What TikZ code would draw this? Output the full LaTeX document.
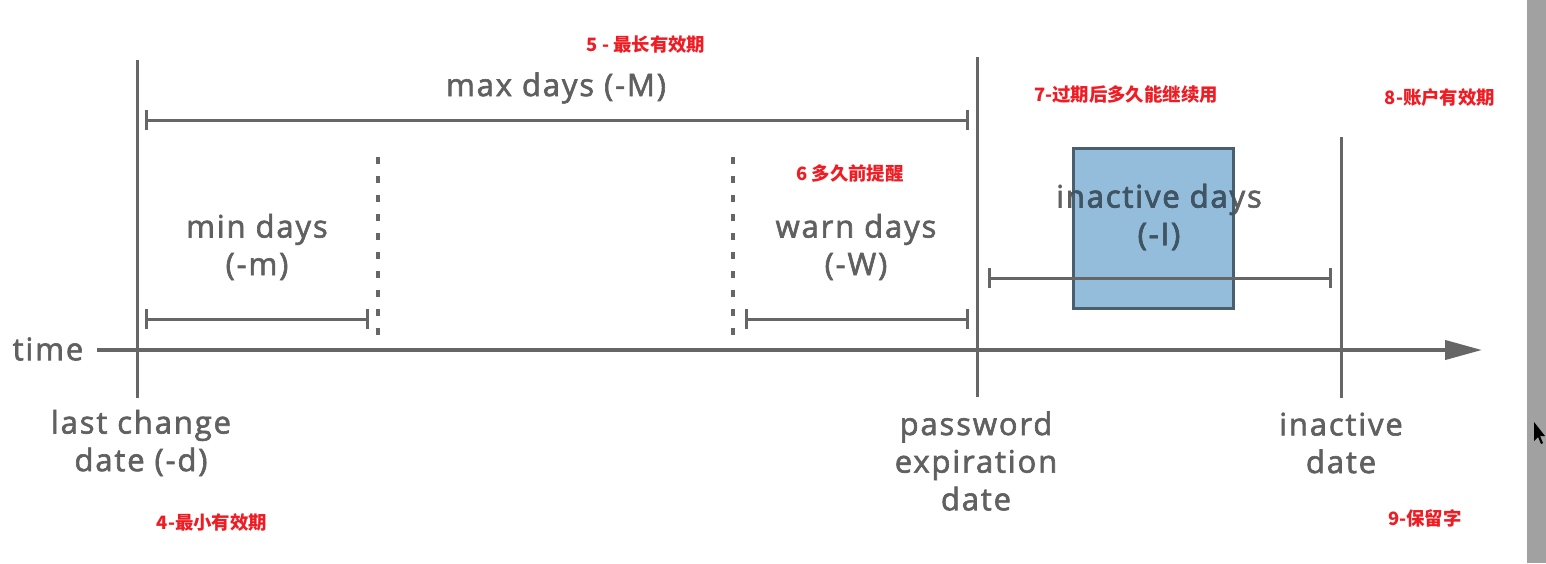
\documentclass[tikz,border=0pt]{standalone}
\usepackage{fontspec}
\setmainfont{Open Sans}
\IfFontExistsTF{Open Sans SemiBold}
  {\newfontfamily\lblfont[LetterSpace=5]{Open Sans SemiBold}}
  {\newfontfamily\lblfont[LetterSpace=6,FakeBold=2]{Open Sans}}
\newfontfamily\cjk{Noto Sans CJK SC}
\usetikzlibrary{arrows.meta}
\definecolor{linegray}{HTML}{666666}
\definecolor{txtgray}{HTML}{606060}
\definecolor{boxfill}{HTML}{94BCDB}
\definecolor{boxedge}{HTML}{4A5F6E}
\definecolor{txtdark}{HTML}{3E5566}
\definecolor{notered}{HTML}{F01C24}
\tikzset{
  lbl/.style={font=\lblfont\fontsize{15.5}{18.8}\selectfont, text=txtgray, align=center, inner sep=0pt},
  note/.style={font=\cjk\bfseries\fontsize{9.2}{10}\selectfont, text=notered, inner sep=0pt},
  ln/.style={draw=linegray, line width=1.5pt},
  spanbar/.style={ln, {Bar[width=10pt]}-{Bar[width=10pt]}},
  dotline/.style={draw=linegray, line width=1.6pt, dash pattern=on 3.5pt off 6pt},
}
\begin{document}
\begin{tikzpicture}[x=0.5pt,y=-0.5pt]
\useasboundingbox (0,0) rectangle (1546,563);
\fill[white] (0,0) rectangle (1546,563);
% right scrollbar
\fill[black!37] (1527,0) rectangle (1546,563);
% cursor
\fill[black] (1534,422) -- (1534,441) -- (1538,437) -- (1541,444) -- (1543,443) -- (1540,436) -- (1545,436) -- cycle;

% coordinates
\coordinate (axS) at (97,350);
\coordinate (axE) at (1482,350);
\coordinate (v1t) at (137,60);  \coordinate (v1b) at (137,398);
\coordinate (v2t) at (977,57);  \coordinate (v2b) at (977,397);
\coordinate (v3t) at (1341,137);\coordinate (v3b) at (1341,398);
\coordinate (d1t) at (378,157); \coordinate (d1b) at (378,344);
\coordinate (d2t) at (733,157); \coordinate (d2b) at (733,344);
\coordinate (mxL) at (145,120); \coordinate (mxR) at (969,120);
\coordinate (mnL) at (145,319); \coordinate (mnR) at (369,319);
\coordinate (wnL) at (745,319); \coordinate (wnR) at (969,319);
\coordinate (inL) at (988,278); \coordinate (inR) at (1332,278);

% axis
\draw[draw=linegray, line width=2pt, -{Triangle[length=18.5pt,width=9.5pt]}] (axS) -- (axE);
% verticals
\draw[ln] (v1t) -- (v1b);
\draw[ln] (v2t) -- (v2b);
\draw[ln] (v3t) -- (v3b);
% dotted
\draw[dotline] (d1t) -- (d1b);
\draw[dotline] (d2t) -- (d2b);
% span bars
\draw[spanbar] (mxL) -- (mxR);
\draw[spanbar] (mnL) -- (mnR);
\draw[spanbar] (wnL) -- (wnR);
% inactive box
\node[draw=boxedge, line width=1.5pt, fill=boxfill, minimum width=80pt, minimum height=80pt, inner sep=0pt] (ibox) at (1153,228) {};
\draw[spanbar] (inL) -- (inR);

% labels
\node[lbl] (time) at (48,349) {time};
\node[lbl] (maxd) at (556,88) {max days (-M)};
\node[lbl] (mind) at (257,247) {min days\\(-m)};
\node[lbl] (warnd) at (856,247) {warn days\\(-W)};
\node[lbl] (inact) at (1159,217) {inactive days\\(-I)};
\begin{scope}
\clip (ibox.south west) rectangle (ibox.north east);
\node[lbl, text=txtdark] (inactB) at (1159,217) {inactive days\\(-I)};
\end{scope}
\node[lbl] (lastc) at (141,443) {last change\\date (-d)};
\node[lbl] (pwexp) at (976,461) {password\\expiration\\date};
\node[lbl] (inactd) at (1341,443) {inactive\\date};

% red notes
\node[note] (n5) at (646,45) {5 - 最长有效期};
\node[note] (n7) at (1126,94) {7-过期后多久能继续用};
\node[note] (n8) at (1440,98) {8-账户有效期};
\node[note] (n6) at (850,173) {6 多久前提醒};
\node[note] (n4) at (212,523) {4-最小有效期};
\node[note] (n9) at (1425,518) {9-保留字};
\end{tikzpicture}
\end{document}
